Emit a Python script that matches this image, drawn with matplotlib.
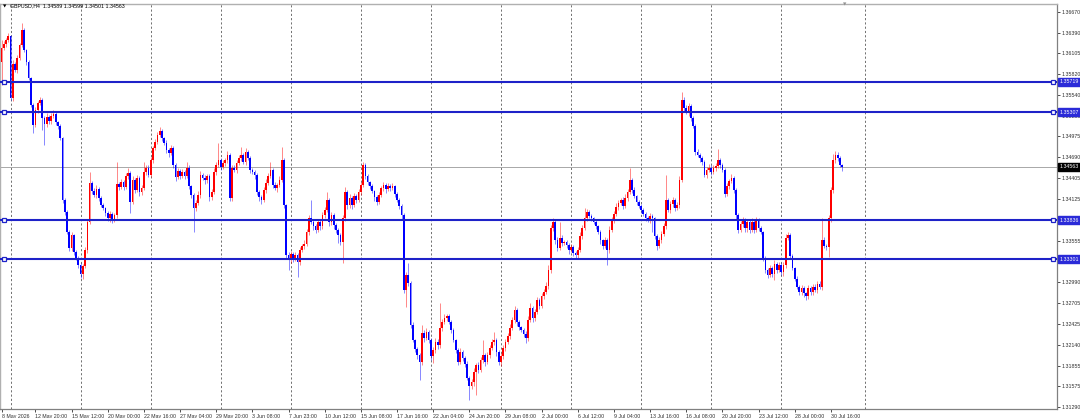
import numpy as np
import matplotlib
matplotlib.use("Agg")
import matplotlib.pyplot as plt
import matplotlib.transforms as mtransforms

plt.rcParams["font.family"] = ["Liberation Sans", "DejaVu Sans"]

# ---------------- data ----------------
symbol = "GBPUSD,H4"
last_ohlc = ["1.34589", "1.34599", "1.34501", "1.34563"]
first_open = 1.3599

closes = [
    1.3618, 1.3623, 1.3629, 1.3634, 1.3550, 1.3596, 1.3588, 1.3604, 1.3622, 1.3642, 1.3615, 1.3599, 1.3577, 1.3540, 1.3513, 1.3534, 1.3543, 1.3547, 1.3523, 1.3514,
    1.3524, 1.3518, 1.3525, 1.3528, 1.3517, 1.3512, 1.3495, 1.3411, 1.3395, 1.3367, 1.3345, 1.3363, 1.3340, 1.3332, 1.3322, 1.3310, 1.3321, 1.3343, 1.3381, 1.3434,
    1.3423, 1.3418, 1.3426, 1.3414, 1.3404, 1.3400, 1.3393, 1.3386, 1.3392, 1.3384, 1.3390, 1.3433, 1.3429, 1.3435, 1.3429, 1.3444, 1.3448, 1.3408, 1.3438, 1.3425,
    1.3441, 1.3422, 1.3427, 1.3449, 1.3455, 1.3445, 1.3465, 1.3482, 1.3490, 1.3500, 1.3505, 1.3495, 1.3489, 1.3479, 1.3475, 1.3482, 1.3459, 1.3442, 1.3450, 1.3444,
    1.3449, 1.3444, 1.3455, 1.3430, 1.3418, 1.3400, 1.3407, 1.3418, 1.3445, 1.3441, 1.3438, 1.3444, 1.3415, 1.3422, 1.3449, 1.3459, 1.3465, 1.3456, 1.3461, 1.3465,
    1.3472, 1.3414, 1.3455, 1.3452, 1.3461, 1.3468, 1.3472, 1.3463, 1.3476, 1.3468, 1.3452, 1.3449, 1.3445, 1.3422, 1.3415, 1.3411, 1.3425, 1.3434, 1.3444, 1.3452,
    1.3431, 1.3427, 1.3431, 1.3438, 1.3465, 1.3404, 1.3336, 1.3329, 1.3337, 1.3332, 1.3336, 1.3326, 1.3343, 1.3348, 1.3351, 1.3367, 1.3386, 1.3381, 1.3375, 1.3370,
    1.3381, 1.3375, 1.3390, 1.3397, 1.3411, 1.3381, 1.3390, 1.3377, 1.3370, 1.3363, 1.3354, 1.3386, 1.3422, 1.3404, 1.3414, 1.3404, 1.3416, 1.3411, 1.3422, 1.3431,
    1.3459, 1.3444, 1.3435, 1.3430, 1.3423, 1.3415, 1.3408, 1.3418, 1.3427, 1.3431, 1.3426, 1.3430, 1.3427, 1.3430, 1.3419, 1.3411, 1.3403, 1.3390, 1.3288, 1.3309,
    1.3298, 1.3241, 1.3220, 1.3208, 1.3200, 1.3190, 1.3230, 1.3223, 1.3231, 1.3220, 1.3198, 1.3207, 1.3218, 1.3213, 1.3237, 1.3245, 1.3250, 1.3253, 1.3245, 1.3234,
    1.3220, 1.3207, 1.3190, 1.3204, 1.3196, 1.3188, 1.3169, 1.3158, 1.3163, 1.3177, 1.3186, 1.3179, 1.3193, 1.3200, 1.3190, 1.3200, 1.3209, 1.3218, 1.3220, 1.3204,
    1.3190, 1.3198, 1.3209, 1.3218, 1.3226, 1.3237, 1.3248, 1.3261, 1.3245, 1.3238, 1.3234, 1.3229, 1.3223, 1.3248, 1.3264, 1.3250, 1.3258, 1.3275, 1.3267, 1.3280,
    1.3286, 1.3294, 1.3316, 1.3373, 1.3381, 1.3356, 1.3346, 1.3359, 1.3352, 1.3354, 1.3350, 1.3343, 1.3347, 1.3339, 1.3336, 1.3343, 1.3362, 1.3373, 1.3386, 1.3395,
    1.3389, 1.3386, 1.3381, 1.3375, 1.3367, 1.3356, 1.3348, 1.3356, 1.3343, 1.3370, 1.3384, 1.3392, 1.3402, 1.3407, 1.3411, 1.3403, 1.3414, 1.3422, 1.3438, 1.3425,
    1.3416, 1.3408, 1.3403, 1.3397, 1.3392, 1.3386, 1.3384, 1.3389, 1.3386, 1.3362, 1.3348, 1.3356, 1.3365, 1.3375, 1.3411, 1.3397, 1.3405, 1.3411, 1.3400, 1.3404,
    1.3438, 1.3547, 1.3536, 1.3531, 1.3539, 1.3523, 1.3512, 1.3476, 1.3472, 1.3468, 1.3463, 1.3445, 1.3452, 1.3455, 1.3449, 1.3455, 1.3457, 1.3465, 1.3459, 1.3452,
    1.3419, 1.3430, 1.3437, 1.3441, 1.3425, 1.3390, 1.3370, 1.3378, 1.3384, 1.3373, 1.3381, 1.3370, 1.3381, 1.3370, 1.3384, 1.3373, 1.3367, 1.3332, 1.3316, 1.3309,
    1.3318, 1.3310, 1.3324, 1.3316, 1.3322, 1.3313, 1.3322, 1.3359, 1.3363, 1.3334, 1.3318, 1.3304, 1.3293, 1.3285, 1.3291, 1.3284, 1.3280, 1.3291, 1.3285, 1.3293,
    1.3288, 1.3297, 1.3293, 1.3356, 1.3348, 1.3347, 1.3386, 1.3425, 1.3465, 1.3472, 1.3468, 1.34589, 1.34563,
]

# upper / lower wick lengths in pips (0.0001)
wick_up = [
    11, 4, 3, 4, 2, 5, 3, 4, 3, 10, 3, 2, 3, 2, 3, 4, 3, 4, 3, 2,
    5, 3, 4, 5, 3, 2, 3, 2, 3, 2, 3, 4, 2, 3, 2, 3, 3, 4, 3, 15,
    3, 4, 5, 3, 2, 3, 2, 3, 4, 2, 3, 30, 3, 5, 3, 4, 6, 3, 5, 3,
    4, 3, 5, 14, 4, 3, 4, 3, 4, 3, 5, 3, 2, 3, 3, 4, 3, 3, 5, 3,
    4, 3, 8, 3, 2, 3, 4, 5, 6, 3, 4, 3, 3, 4, 5, 4, 23, 3, 4, 3,
    5, 3, 4, 3, 5, 4, 11, 3, 6, 3, 3, 2, 3, 3, 2, 3, 4, 5, 4, 11,
    3, 4, 3, 5, 18, 3, 2, 4, 5, 3, 4, 3, 4, 3, 5, 4, 5, 25, 3, 3,
    4, 3, 5, 4, 11, 3, 4, 3, 2, 3, 3, 4, 7, 3, 5, 3, 4, 3, 4, 5,
    4, 3, 3, 2, 3, 2, 3, 4, 3, 5, 3, 4, 3, 4, 2, 3, 3, 2, 3, 4,
    16, 3, 4, 2, 3, 3, 11, 4, 5, 3, 3, 4, 5, 3, 34, 4, 5, 3, 3, 2,
    3, 2, 3, 5, 3, 2, 3, 2, 4, 5, 3, 4, 4, 20, 3, 4, 5, 4, 11, 3,
    3, 4, 5, 3, 4, 5, 4, 6, 3, 3, 2, 3, 3, 5, 6, 3, 5, 4, 3, 4,
    4, 5, 6, 4, 6, 3, 4, 22, 4, 3, 3, 2, 4, 3, 3, 4, 5, 4, 14, 4,
    3, 3, 2, 3, 2, 3, 2, 4, 3, 5, 4, 4, 5, 4, 3, 4, 5, 4, 16, 3,
    3, 2, 3, 2, 3, 2, 3, 4, 3, 2, 3, 4, 4, 5, 34, 3, 5, 4, 3, 4,
    5, 11, 4, 5, 4, 3, 3, 3, 4, 3, 3, 2, 4, 5, 3, 4, 5, 16, 3, 3,
    3, 4, 3, 5, 3, 2, 3, 4, 4, 3, 4, 3, 5, 3, 4, 3, 3, 2, 3, 2,
    4, 3, 5, 3, 4, 3, 4, 5, 4, 3, 3, 2, 3, 2, 4, 3, 2, 4, 3, 4,
    3, 4, 3, 31, 4, 3, 5, 4, 8, 6, 4, 3, 1,
]
wick_dn = [
    31, 3, 4, 3, 3, 4, 3, 4, 3, 2, 3, 4, 3, 3, 11, 3, 4, 3, 17, 28,
    3, 4, 3, 3, 4, 5, 3, 4, 5, 3, 4, 3, 4, 3, 4, 5, 6, 3, 4, 3,
    4, 3, 5, 4, 3, 3, 4, 3, 5, 4, 3, 4, 5, 3, 4, 3, 4, 15, 3, 5,
    3, 5, 4, 3, 4, 3, 3, 4, 3, 3, 3, 4, 3, 4, 5, 3, 4, 5, 3, 4,
    3, 4, 3, 4, 5, 33, 4, 3, 4, 3, 5, 4, 6, 4, 3, 4, 3, 4, 3, 4,
    3, 4, 5, 3, 4, 3, 4, 3, 4, 3, 4, 3, 5, 4, 5, 6, 3, 4, 3, 3,
    4, 3, 5, 3, 3, 4, 5, 13, 4, 5, 4, 20, 4, 3, 4, 3, 4, 3, 5, 4,
    3, 5, 3, 4, 3, 5, 4, 5, 4, 10, 4, 29, 3, 5, 4, 5, 3, 4, 3, 4,
    3, 4, 3, 4, 3, 5, 4, 3, 3, 4, 5, 3, 4, 3, 4, 3, 4, 5, 4, 23,
    4, 5, 3, 4, 5, 24, 4, 5, 3, 4, 5, 9, 4, 5, 3, 4, 3, 4, 3, 4,
    3, 5, 4, 3, 5, 4, 3, 20, 4, 5, 32, 4, 3, 4, 5, 3, 4, 3, 4, 5,
    4, 5, 3, 4, 3, 4, 3, 4, 5, 4, 3, 4, 7, 4, 3, 5, 4, 3, 4, 3,
    4, 3, 4, 5, 4, 5, 4, 3, 4, 3, 4, 5, 3, 4, 5, 4, 3, 4, 3, 4,
    3, 4, 3, 4, 3, 5, 4, 3, 21, 4, 3, 4, 3, 4, 3, 4, 3, 4, 3, 4,
    3, 4, 3, 4, 3, 4, 3, 4, 19, 4, 5, 3, 4, 3, 4, 3, 4, 3, 4, 3,
    4, 3, 4, 3, 5, 4, 3, 4, 3, 5, 4, 3, 4, 3, 4, 3, 4, 3, 4, 3,
    4, 3, 4, 3, 4, 5, 4, 3, 4, 6, 5, 4, 3, 4, 3, 4, 3, 4, 5, 4,
    3, 4, 8, 4, 3, 4, 5, 4, 3, 4, 3, 4, 3, 4, 3, 5, 5, 4, 3, 4,
    3, 4, 3, 4, 3, 4, 14, 5, 4, 3, 4, 3, 6.2,
]

level_prices = [1.35719, 1.35307, 1.33836, 1.33301]
level_labels = ["1.35719", "1.35307", "1.33836", "1.33301"]
last_price = 1.34563
last_label = "1.34563"

price_ticks = [1.36670, 1.36390, 1.36105, 1.35820, 1.35540, 1.35255, 1.34975,
               1.34690, 1.34405, 1.34125, 1.33840, 1.33555, 1.33275, 1.32990,
               1.32705, 1.32425, 1.32140, 1.31855, 1.31575, 1.31290]

date_labels = ["8 May 2026", "12 May 20:00", "15 May 12:00", "20 May 00:00",
               "22 May 16:00", "27 May 04:00", "29 May 20:00", "3 Jun 08:00",
               "7 Jun 23:00", "10 Jun 12:00", "15 Jun 08:00", "17 Jun 16:00",
               "22 Jun 04:00", "24 Jun 20:00", "29 Jun 08:00", "2 Jul 00:00",
               "6 Jul 12:00", "9 Jul 04:00", "13 Jul 16:00", "16 Jul 08:00",
               "20 Jul 20:00", "23 Jul 12:00", "28 Jul 00:00", "30 Jul 16:00"]
date_bars = [0, 15, 31, 47, 63, 79, 95, 111, 127, 143, 159, 175, 191, 207,
             223, 239, 255, 271, 287, 303, 319, 335, 351, 367]

# ---------------- derived ----------------
n = min(len(closes), len(wick_up), len(wick_dn))
c = np.array(closes[:n])
o = np.concatenate([[first_open], c[:-1]])
hi = np.maximum(o, c) + np.array(wick_up[:n]) * 1e-4
lo = np.minimum(o, c) - np.array(wick_dn[:n]) * 1e-4
idx = np.arange(n)
up = c >= o

# ---------------- layout ----------------
W, H = 1080, 418
fig = plt.figure(figsize=(W / 100, H / 100), dpi=100)
fig.patch.set_facecolor("white")
ax_l, ax_r, ax_t, ax_b = 0, 1057, 4, 409
ax = fig.add_axes([ax_l / W, (H - ax_b) / H, (ax_r - ax_l) / W, (ax_b - ax_t) / H])

px0, pstep = 1.5, 2.26
ax.set_xlim((0 - px0) / pstep, (ax_r - px0) / pstep)
ppx = (1.36670 - 1.31290) / 395.0
ax.set_ylim(1.31290 - 2 * ppx, 1.36670 + 8 * ppx)

RED = "#FF0000"
BLUE = "#0000FF"
LINE_BLUE = "#1E22C8"
FS = 3.8

# grid (vertical dashed)
for gb in [4, 35, 66, 97, 128, 159, 190, 221, 252, 283, 314, 345, 382]:
    ax.axvline(gb, color="#707070", lw=0.7, ls=(0, (2.2, 2.2)), zorder=0)

# current price line
ax.axhline(last_price, color="#A8A8A8", lw=0.7, zorder=1)

# candles
cols = np.where(up, RED, BLUE)
ax.vlines(idx, lo, hi, colors=cols, lw=0.6, alpha=0.55, zorder=2)
body_b = np.minimum(o, c)
body_h = np.maximum(np.abs(c - o), 0.00004)
ax.bar(idx, body_h, bottom=body_b, width=0.75, color=cols, linewidth=0, zorder=3)

# horizontal levels
blend = mtransforms.blended_transform_factory(ax.transAxes, ax.transData)
for lv, lab in zip(level_prices, level_labels):
    ax.axhline(lv, color=LINE_BLUE, lw=1.5, zorder=4)
    ax.plot([4 / 1057, 1053 / 1057], [lv, lv], ls="none", marker="s", ms=3,
            mfc="white", mec=LINE_BLUE, mew=0.9, transform=blend, zorder=5,
            clip_on=False)
    ax.text(1.0025, lv, lab, transform=blend, fontsize=FS, color="white",
            ha="left", va="center", zorder=10, clip_on=False,
            bbox=dict(boxstyle="square,pad=0.3", fc="#2A2AD8", ec="#2A2AD8"))

ax.text(1.0025, last_price, last_label, transform=blend, fontsize=FS,
        color="white", ha="left", va="center", zorder=10, clip_on=False,
        bbox=dict(boxstyle="square,pad=0.3", fc="black", ec="black"))

# axes styling
for s in ["top", "left"]:
    ax.spines[s].set_color("#B0B0B0")
    ax.spines[s].set_linewidth(1.0)
for s in ["right", "bottom"]:
    ax.spines[s].set_color("#808080")
    ax.spines[s].set_linewidth(0.9)

ax.yaxis.tick_right()
ax.set_yticks(price_ticks)
ax.set_yticklabels([f"{p:.5f}" for p in price_ticks])
ax.tick_params(axis="y", which="both", direction="out", length=2, width=0.6,
               pad=1.5, labelsize=FS, colors="#303030", left=False)
ax.set_xticks(date_bars)
ax.set_xticklabels(date_labels)
ax.tick_params(axis="x", direction="out", length=2.5, width=0.6, pad=1,
               labelsize=FS, colors="#303030")
for t in ax.get_xticklabels():
    t.set_horizontalalignment("left")

# header
fig.text(3 / W, 1 - 6 / H, "\u25BC", fontsize=3.2, color="black", va="center",
         ha="left", family="DejaVu Sans")
fig.text(10 / W, 1 - 6 / H, f"{symbol}  " + " ".join(last_ohlc), fontsize=FS,
         color="black", va="center", ha="left")
# shift marker
fig.text(845 / W, 1 - 4 / H, "\u25BC", fontsize=3.2, color="#909090", va="center",
         ha="center", family="DejaVu Sans")

fig.savefig("out.png", dpi=100, facecolor="white")
